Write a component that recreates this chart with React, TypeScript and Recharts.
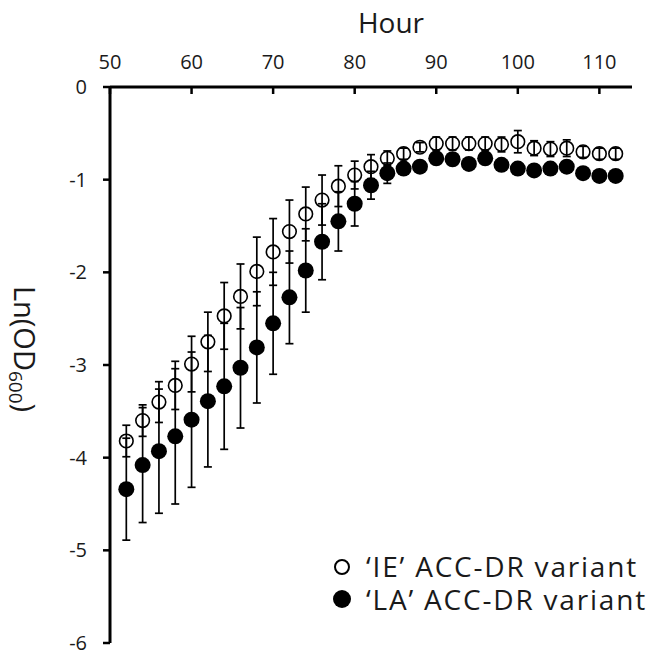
import { ScatterChart, Scatter, XAxis, YAxis, ErrorBar, Label } from "recharts";

const INK = "#1a1a1a";
const FONT = "'Open Sans', sans-serif";

const HOURS = [
  52, 54, 56, 58, 60, 62, 64, 66, 68, 70, 72, 74, 76, 78, 80, 82, 84, 86, 88, 90,
  92, 94, 96, 98, 100, 102, 104, 106, 108, 110, 112,
];

// 'IE' ACC-DR variant (open circles)
const IE_MEAN = [
  -3.82, -3.6, -3.4, -3.22, -2.99, -2.75, -2.47, -2.26, -1.99, -1.78, -1.56, -1.37,
  -1.22, -1.07, -0.95, -0.86, -0.77, -0.72, -0.65, -0.61, -0.61, -0.61, -0.61,
  -0.62, -0.59, -0.66, -0.67, -0.66, -0.7, -0.72, -0.72,
];
const IE_ERR = [
  0.17, 0.17, 0.22, 0.26, 0.3, 0.32, 0.36, 0.35, 0.37, 0.36, 0.34, 0.29, 0.27, 0.22,
  0.15, 0.13, 0.08, 0.06, 0.05, 0.07, 0.07, 0.07, 0.07, 0.08, 0.12, 0.08, 0.08, 0.09,
  0.06, 0.06, 0.06,
];

// 'LA' ACC-DR variant (filled circles)
const LA_MEAN = [
  -4.34, -4.08, -3.93, -3.77, -3.59, -3.39, -3.23, -3.03, -2.81, -2.55, -2.27, -1.98,
  -1.67, -1.45, -1.26, -1.06, -0.93, -0.88, -0.86, -0.77, -0.78, -0.83, -0.77,
  -0.84, -0.88, -0.9, -0.88, -0.86, -0.93, -0.96, -0.96,
];
const LA_ERR = [
  0.55, 0.62, 0.67, 0.73, 0.73, 0.71, 0.68, 0.65, 0.6, 0.55, 0.5, 0.45, 0.41, 0.32,
  0.24, 0.15, 0.11, 0.06, 0.05, 0.05, 0.05, 0.04, 0.06, 0.04, 0.04, 0.04, 0.04, 0.05,
  0.04, 0.04, 0.04,
];

const X_TICKS = [50, 60, 70, 80, 90, 100, 110];
const Y_TICKS = [0, -1, -2, -3, -4, -5, -6];

const ieData = HOURS.map((hour, i) => ({ hour, v: IE_MEAN[i], err: IE_ERR[i] }));
const laData = HOURS.map((hour, i) => ({ hour, v: LA_MEAN[i], err: LA_ERR[i] }));

function HourTick(props: any) {
  const { x, y, payload } = props;
  return (
    <g>
      <line x1={x} y1={y} x2={x} y2={y + 7} stroke="#000" strokeWidth={2.5} />
      <text x={x} y={y - 18} textAnchor="middle" fontSize={20} fill={INK} fontFamily={FONT}>
        {payload.value}
      </text>
    </g>
  );
}

function OdTick(props: any) {
  const { x, y, payload } = props;
  return (
    <text x={x} y={y + 7} textAnchor="end" fontSize={20} fill={INK} fontFamily={FONT}>
      {payload.value}
    </text>
  );
}

function HourLabel(props: any) {
  const vb = props.viewBox;
  return (
    <text x={vb.x + vb.width / 2 + 20} y={33} textAnchor="middle" fontSize={28} fill={INK} fontFamily={FONT}>
      Hour
    </text>
  );
}

function OdLabel() {
  const x = 14;
  const y = 349;
  return (
    <text
      x={x}
      y={y}
      transform={`rotate(90, ${x}, ${y})`}
      textAnchor="middle"
      fontSize={29}
      fill={INK}
      fontFamily={FONT}
    >
      Ln(OD
      <tspan fontSize={19} dy={5}>
        600
      </tspan>
      <tspan dy={-5}>)</tspan>
    </text>
  );
}

const openDot = (p: any) => (
  <circle cx={p.cx} cy={p.cy} r={6.8} fill="none" stroke="#000" strokeWidth={1.6} />
);
const filledDot = (p: any) => <circle cx={p.cx} cy={p.cy} r={8} fill="#000" />;

export default function App() {
  return (
    <div style={{ position: "absolute", left: 0, top: 0, width: 672, height: 656, background: "#fff" }}>
      <ScatterChart width={672} height={656} margin={{ top: 0, right: 40, bottom: 13, left: 0 }}>
        <XAxis
          type="number"
          dataKey="hour"
          orientation="top"
          domain={[50, 114]}
          ticks={X_TICKS}
          allowDataOverflow
          height={87}
          axisLine={{ stroke: "#000", strokeWidth: 3 }}
          tickLine={false}
          tickSize={0}
          tickMargin={0}
          tick={<HourTick />}
        >
          <Label content={<HourLabel />} />
        </XAxis>
        <YAxis
          type="number"
          dataKey="v"
          domain={[-6, 0]}
          ticks={Y_TICKS}
          allowDataOverflow
          width={110}
          axisLine={{ stroke: "#000", strokeWidth: 3 }}
          tickLine={{ stroke: "#000", strokeWidth: 2.5 }}
          tickSize={7}
          tickMargin={16}
          tick={<OdTick />}
        >
          <Label content={<OdLabel />} />
        </YAxis>
        <Scatter data={laData} shape={filledDot} isAnimationActive={false}>
          <ErrorBar dataKey="err" direction="y" width={4} stroke="#000" strokeWidth={1.7} isAnimationActive={false} />
        </Scatter>
        <Scatter data={ieData} shape={openDot} isAnimationActive={false}>
          <ErrorBar dataKey="err" direction="y" width={4} stroke="#000" strokeWidth={1.7} isAnimationActive={false} />
        </Scatter>
      </ScatterChart>
      <svg
        width={672}
        height={656}
        style={{ position: "absolute", left: 0, top: 0, pointerEvents: "none" }}
      >
        <circle cx={342} cy={567} r={7} fill="none" stroke="#000" strokeWidth={2} />
        <text x={366} y={577} fontSize={28} letterSpacing={1.8} fill={INK} fontFamily={FONT}>
          {"\u2018IE\u2019 ACC-DR variant"}
        </text>
        <circle cx={342} cy={599} r={9} fill="#000" />
        <text x={366} y={610} fontSize={28} letterSpacing={1.8} fill={INK} fontFamily={FONT}>
          {"\u2018LA\u2019 ACC-DR variant"}
        </text>
      </svg>
    </div>
  );
}
